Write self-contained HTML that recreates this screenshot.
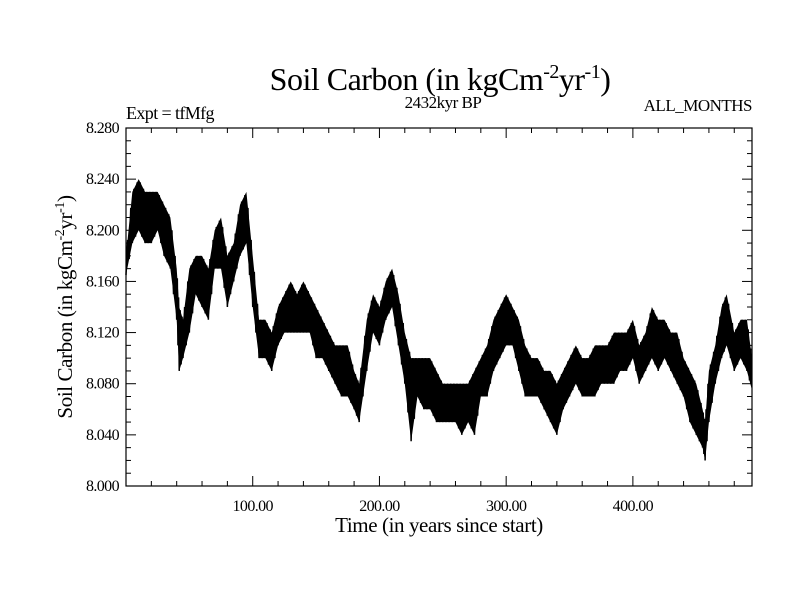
<!DOCTYPE html>
<html><head><meta charset="utf-8"><style>
body{margin:0;background:#fff}
svg text{font-family:"Liberation Serif",serif;fill:#000}
</style></head><body>
<svg id="chart" width="800" height="600" xmlns="http://www.w3.org/2000/svg">
<text x="440" y="90" font-size="32" text-anchor="middle" letter-spacing="-0.5">Soil Carbon (in kgCm<tspan dy="-12" font-size="20">-2</tspan><tspan dy="12">yr</tspan><tspan dy="-12" font-size="20">-1</tspan><tspan dy="12">)</tspan></text>
<text x="443" y="108" font-size="17" text-anchor="middle" letter-spacing="-0.5">2432kyr BP</text>
<text x="126" y="119" font-size="18" letter-spacing="-0.6">Expt = tfMfg</text>
<text x="752" y="111" font-size="17" text-anchor="end" letter-spacing="-0.5">ALL_MONTHS</text>
<text x="439" y="532" font-size="21" text-anchor="middle" letter-spacing="-0.4">Time (in years since start)</text>
<text transform="translate(72,307) rotate(-90)" font-size="21" text-anchor="middle" letter-spacing="-0.4">Soil Carbon (in kgCm<tspan dy="-8" font-size="14">-2</tspan><tspan dy="8">yr</tspan><tspan dy="-8" font-size="14">-1</tspan><tspan dy="8">)</tspan></text>
<g id="plot"></g>
</svg>
<script>
const years=[0,5,10,15,20,25,30,35,40,42,45,50,55,60,65,70,75,80,85,90,95,100,105,110,115,120,125,130,135,140,145,150,155,160,165,170,175,180,184,190,195,200,205,210,215,220,225,230,235,240,245,250,255,260,265,270,275,280,285,290,295,300,305,310,315,320,325,330,335,340,345,350,355,360,365,370,375,380,385,390,395,400,405,410,415,420,425,430,435,440,445,450,455,457,460,465,470,474,480,485,490,494];
const lowVals=[8.165,8.19,8.20,8.19,8.19,8.20,8.18,8.17,8.13,8.09,8.10,8.12,8.15,8.14,8.13,8.17,8.17,8.14,8.16,8.18,8.19,8.14,8.10,8.10,8.09,8.11,8.12,8.12,8.12,8.12,8.12,8.10,8.10,8.09,8.08,8.07,8.07,8.06,8.05,8.09,8.12,8.11,8.13,8.14,8.11,8.08,8.035,8.07,8.06,8.06,8.05,8.05,8.05,8.05,8.04,8.05,8.04,8.07,8.07,8.09,8.10,8.11,8.11,8.09,8.07,8.07,8.07,8.06,8.05,8.04,8.06,8.07,8.08,8.07,8.07,8.07,8.08,8.08,8.08,8.09,8.09,8.10,8.08,8.09,8.10,8.09,8.10,8.09,8.08,8.07,8.05,8.04,8.03,8.02,8.05,8.08,8.10,8.11,8.09,8.10,8.09,8.075];
const highVals=[8.18,8.23,8.24,8.23,8.23,8.23,8.22,8.21,8.17,8.14,8.13,8.17,8.18,8.18,8.17,8.20,8.21,8.18,8.19,8.22,8.23,8.18,8.13,8.13,8.12,8.14,8.15,8.16,8.15,8.16,8.15,8.14,8.13,8.12,8.11,8.11,8.11,8.09,8.08,8.13,8.15,8.14,8.16,8.17,8.15,8.12,8.10,8.10,8.10,8.10,8.09,8.08,8.08,8.08,8.08,8.08,8.09,8.10,8.11,8.13,8.14,8.15,8.14,8.13,8.11,8.10,8.10,8.09,8.09,8.08,8.09,8.10,8.11,8.10,8.10,8.11,8.11,8.11,8.12,8.12,8.12,8.13,8.11,8.12,8.14,8.13,8.13,8.12,8.12,8.10,8.09,8.08,8.06,8.05,8.09,8.11,8.14,8.15,8.12,8.13,8.13,8.10];
const yTicks=[8.000,8.040,8.080,8.120,8.160,8.200,8.240,8.280];
const xTicks=[100,200,300,400];
const L=126,R=752,T=128,B=486,X0=0,X1=494,Y0=8.0,Y1=8.28;
const sx=v=>L+(v-X0)/(X1-X0)*(R-L);
const sy=v=>B-(v-Y0)/(Y1-Y0)*(B-T);
const NS="http://www.w3.org/2000/svg";
const g=document.getElementById('plot');
function mk(t,a){const e=document.createElementNS(NS,t);for(const k in a)e.setAttribute(k,a[k]);g.appendChild(e);return e;}
let pts=[];
years.forEach((y,i)=>pts.push(sx(y)+','+sy(highVals[i])));
for(let i=years.length-1;i>=0;i--)pts.push(sx(years[i])+','+sy(lowVals[i]));
const band=mk('polygon',{points:pts.join(' '),fill:'#000'});


let zz=[];
for(let i=0;i<years.length-1;i++){
 for(let k=0;k<4;k++){
  const f=k/4, y=years[i]+(years[i+1]-years[i])*f;
  const lo=lowVals[i]+(lowVals[i+1]-lowVals[i])*f, hi=highVals[i]+(highVals[i+1]-highVals[i])*f;
  zz.push(sx(y)+','+sy(k%2?hi:lo));
 }
}
const line=mk('polyline',{points:zz.join(' '),fill:'none',stroke:'#000','stroke-width':1.5});


const fr=mk('rect',{x:L,y:T,width:R-L,height:B-T,fill:'none',stroke:'#000','stroke-width':1.2});


for(let v=20;v<X1;v+=20){const x=sx(v),len=v%100===0?10:5;
 mk('line',{x1:x,x2:x,y1:B,y2:B-len,stroke:'#000'});mk('line',{x1:x,x2:x,y1:T,y2:T+len,stroke:'#000'});}
xTicks.forEach(v=>{const t=mk('text',{x:sx(v),y:B+25,'font-size':16,'text-anchor':'middle','letter-spacing':'-0.6'});t.textContent=v.toFixed(2);
 
 });
for(let i=1;i<28;i++){const v=Y0+i*0.01,y=sy(v),len=i%4===0?10:5;
 mk('line',{x1:L,x2:L+len,y1:y,y2:y,stroke:'#000'});mk('line',{x1:R,x2:R-len,y1:y,y2:y,stroke:'#000'});}
yTicks.forEach(v=>{const t=mk('text',{x:119,y:sy(v)+5,'font-size':16,'text-anchor':'end','letter-spacing':'-0.6'});t.textContent=v.toFixed(3);
 
 });
</script>
</body></html>
